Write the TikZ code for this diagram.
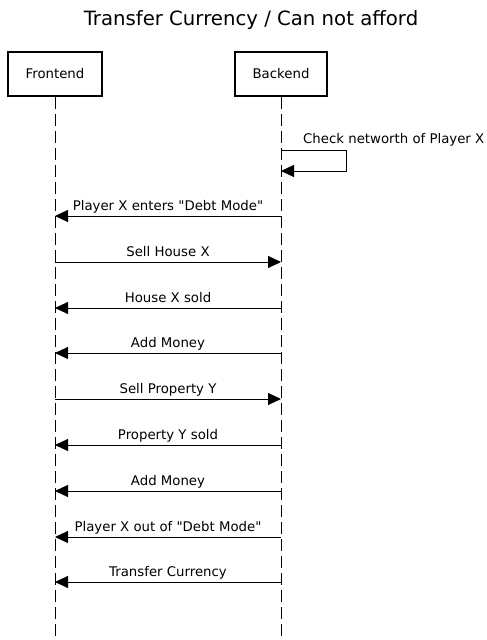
\documentclass[tikz,border=0pt]{standalone}
\usepackage{fontspec}
\setmainfont{DejaVu Sans}
\newfontfamily\plainfont{DejaVu Sans}
\usetikzlibrary{arrows.meta}
\usetikzlibrary{positioning}

\begin{document}
\begin{tikzpicture}[x=1pt,y=-1pt,>={Triangle[length=13pt,width=12pt]},
    actor node/.style={rectangle,draw,line width=2pt,font=\plainfont\fontsize{13.3}{15}\selectfont,inner sep=0pt},
    msg label/.style={midway,anchor=base,yshift=6pt,inner sep=0pt,font=\plainfont\fontsize{13.3}{15}\selectfont},
    life line/.style={-,line width=1pt,dash pattern=on 12pt off 5pt}]
   \useasboundingbox (0,0) rectangle (487,640);
   \begin{scope}
     \node[anchor=base,font=\plainfont\fontsize{19.7}{22}\selectfont] (title) at (251,25.5) {Transfer Currency / Can not afford};
     \node[actor node,minimum width=94pt,minimum height=44pt] (front) at (55,74) {Frontend};
     \node[actor node,minimum width=92pt,minimum height=44pt] (back) at (281,74) {Backend};
     \coordinate (frontend) at (55,640);
     \coordinate (backend) at (281,640);
      \path[life line] (front.south) edge (frontend);
      \path[life line] (back.south) edge (backend);
      % self message on the backend
      \coordinate (s1) at (281,150);
      \coordinate (s2) at (346,150);
      \coordinate (s3) at (346,171);
      \coordinate (s4) at (281,171);
      \draw[->,line width=1pt] (s1) -- (s2) -- (s3) -- (s4);
      \node[anchor=base west,inner sep=0pt,font=\plainfont\fontsize{13.3}{15}\selectfont] (check) at (303,143) {Check networth of Player X};
      % messages
      \coordinate (f1) at (55,216);  \coordinate (b1) at (281,216);
      \coordinate (f2) at (55,262);  \coordinate (b2) at (281,262);
      \coordinate (f3) at (55,308);  \coordinate (b3) at (281,308);
      \coordinate (f4) at (55,353);  \coordinate (b4) at (281,353);
      \coordinate (f5) at (55,399);  \coordinate (b5) at (281,399);
      \coordinate (f6) at (55,445);  \coordinate (b6) at (281,445);
      \coordinate (f7) at (55,491);  \coordinate (b7) at (281,491);
      \coordinate (f8) at (55,537);  \coordinate (b8) at (281,537);
      \coordinate (f9) at (55,582);  \coordinate (b9) at (281,582);
       \path[->,line width=1pt] (b1) edge node[msg label] {Player X enters "Debt Mode"} (f1);
       \path[->,line width=1pt] (f2) edge node[msg label] {Sell House X} (b2);
       \path[->,line width=1pt] (b3) edge node[msg label] {House X sold} (f3);
       \path[->,line width=1pt] (b4) edge node[msg label] {Add Money} (f4);
       \path[->,line width=1pt] (f5) edge node[msg label] {Sell Property Y} (b5);
       \path[->,line width=1pt] (b6) edge node[msg label] {Property Y sold} (f6);
       \path[->,line width=1pt] (b7) edge node[msg label] {Add Money} (f7);
       \path[->,line width=1pt] (b8) edge node[msg label] {Player X out of "Debt Mode"} (f8);
       \path[->,line width=1pt] (b9) edge node[msg label] {Transfer Currency} (f9);
    \end{scope}
  \end{tikzpicture}
\end{document}
